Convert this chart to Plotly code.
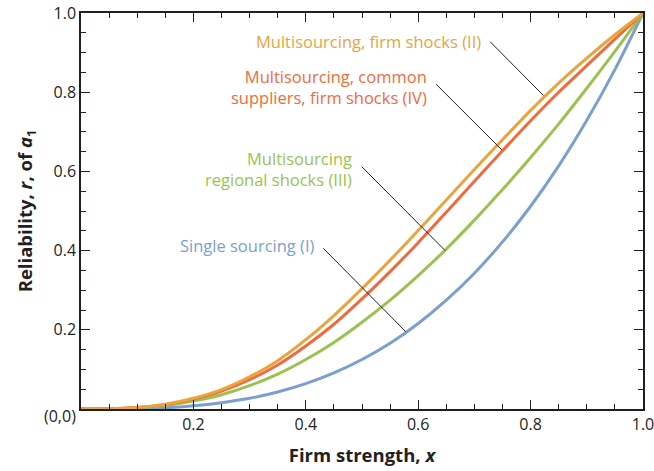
import plotly.graph_objects as go

x_vals = [0.0, 0.05, 0.1, 0.15, 0.2, 0.25, 0.3, 0.35, 0.4, 0.45, 0.5,
          0.55, 0.6, 0.65, 0.7, 0.75, 0.8, 0.85, 0.9, 0.95, 1.0]

single_I = [0.0, 0.0001, 0.001, 0.003, 0.008, 0.016, 0.027, 0.043, 0.064, 0.091, 0.125,
            0.166, 0.216, 0.275, 0.343, 0.422, 0.512, 0.614, 0.729, 0.857, 1.0]
regional_III = [0.0, 0.0004, 0.003, 0.009, 0.020, 0.036, 0.059, 0.088, 0.125, 0.168, 0.219,
                0.275, 0.337, 0.404, 0.477, 0.554, 0.635, 0.720, 0.810, 0.903, 1.0]
common_IV = [0.0, 0.0005, 0.0035, 0.011, 0.025, 0.045, 0.074, 0.111, 0.159, 0.214, 0.278,
             0.347, 0.420, 0.497, 0.575, 0.652, 0.728, 0.800, 0.867, 0.934, 1.0]
firm_II = [0.0, 0.0005, 0.004, 0.012, 0.027, 0.049, 0.081, 0.122, 0.175, 0.236, 0.304,
           0.376, 0.451, 0.528, 0.605, 0.680, 0.754, 0.823, 0.886, 0.945, 1.0]

series = [
    ("Single sourcing (I)", single_I, "#7B9FCF"),
    ("Multisourcing<br>regional shocks (III)", regional_III, "#9BC24E"),
    ("Multisourcing, common<br>suppliers, firm shocks (IV)", common_IV, "#F06A3C"),
    ("Multisourcing, firm shocks (II)", firm_II, "#E9A43D"),
]

# label anchor (right end, data coords) and leader line endpoints (data coords)
label_pos = [(0.420, 0.414), (0.486, 0.607), (0.619, 0.812), (0.715, 0.927)]
leaders = [((0.431, 0.406), (0.578, 0.195)),
           ((0.4995, 0.612), (0.648, 0.400)),
           ((0.632, 0.820), (0.749, 0.654)),
           ((0.728, 0.9275), (0.8226, 0.792))]

FONT = "Open Sans"
INK = "#231F20"
fig = go.Figure()
for name, ys, col in series:
    fig.add_trace(go.Scatter(x=x_vals, y=ys, mode="lines", name=name.replace("<br>", " "),
                             line=dict(color=col, width=3, shape="spline", smoothing=0.8),
                             showlegend=False))

for (name, ys, col), (lx, ly), ((x0, y0), (x1, y1)) in zip(series, label_pos, leaders):
    fig.add_annotation(x=lx, y=ly, xref="x", yref="y", text=name, showarrow=False,
                       xanchor="right", yanchor="middle", align="right",
                       font=dict(family=FONT, size=16.5, color=col))
    fig.add_shape(type="line", x0=x0, y0=y0, x1=x1, y1=y1, xref="x", yref="y",
                  line=dict(color=INK, width=1))

fig.add_annotation(x=0, y=0, xref="x", yref="y", text="(0,0)", showarrow=False,
                   xanchor="right", yanchor="middle", xshift=-3, yshift=-7,
                   font=dict(family=FONT, size=16, color=INK))

fig.update_layout(
    width=654, height=471,
    margin=dict(l=81, r=11, t=13, b=62),
    paper_bgcolor="white", plot_bgcolor="white",
    font=dict(family=FONT, size=16, color=INK),
)
axis_common = dict(range=[0, 1], showgrid=False, zeroline=False, showline=True,
                   automargin=False, ticklabeloverflow="allow",
                   linecolor=INK, linewidth=1.5, mirror="ticks",
                   ticks="inside", ticklen=9, tickwidth=1.2, tickcolor=INK,
                   minor=dict(dtick=0.05, ticks="inside", ticklen=5, tickwidth=1,
                              tickcolor=INK),
                   tickvals=[0.2, 0.4, 0.6, 0.8, 1.0],
                   ticktext=["0.2", "0.4", "0.6", "0.8", "1.0"],
                   tickfont=dict(family=FONT, size=16, color=INK))
fig.update_xaxes(**axis_common,
                 title=dict(text="<b>Firm strength, <i>x</i></b>", standoff=15,
                            font=dict(family=FONT, size=18.5, color=INK)))
fig.update_yaxes(**axis_common,
                 title=dict(text="<b>Reliability, <i>r</i>, of <i>a</i><sub>1</sub></b>", standoff=16,
                            font=dict(family=FONT, size=18.5, color=INK)))

# remove the page's default 8px body margin so the figure sits at the window origin
fig.write_html("out.html", config={"displayModeBar": False},
               post_script="document.body.style.margin='0';")
